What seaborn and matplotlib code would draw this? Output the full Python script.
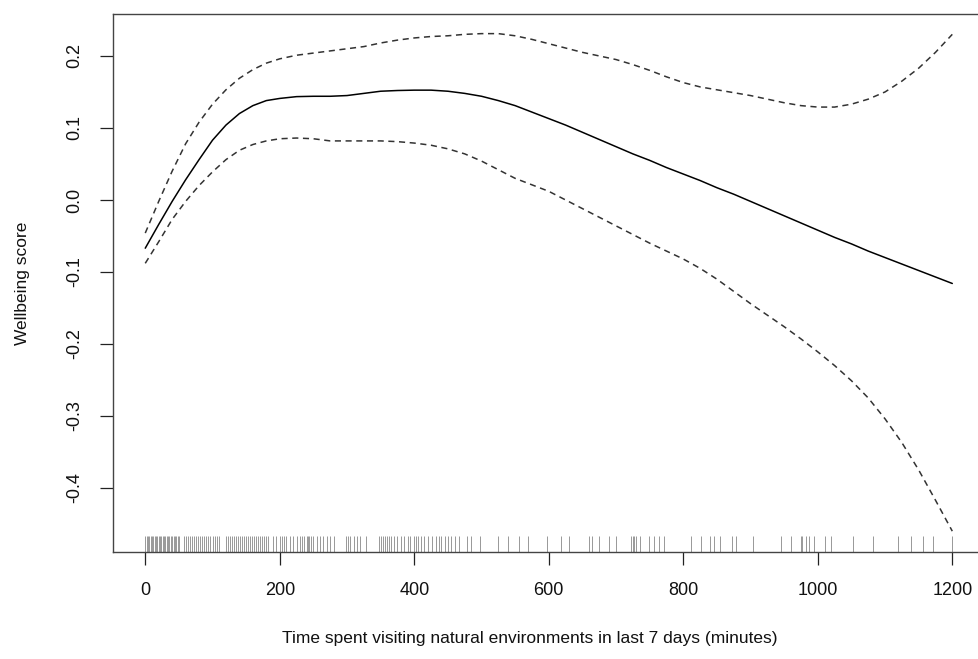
import numpy as np
import pandas as pd
import matplotlib
matplotlib.use('Agg')
import matplotlib.pyplot as plt
import seaborn as sns

# smooth term (GAM style plot): estimate and the two standard-error bands
minutes = [0, 20, 40, 60, 80, 100, 120, 140, 160, 180, 200,
           225, 250, 275, 300, 325, 350, 375, 400, 425, 450, 475, 500,
           525, 550, 575, 600, 625, 650, 675, 700, 725, 750, 775, 800,
           825, 850, 875, 900, 925, 950, 975, 1000, 1025, 1050, 1075, 1100,
           1125, 1150, 1175, 1200]
fit = [-0.067, -0.034, -0.002, 0.028, 0.056, 0.083, 0.104, 0.120, 0.131, 0.138, 0.141,
       0.1435, 0.144, 0.144, 0.145, 0.148, 0.151, 0.152, 0.1525, 0.1525, 0.151, 0.148, 0.144,
       0.138, 0.131, 0.122, 0.113, 0.104, 0.094, 0.084, 0.074, 0.064, 0.055, 0.045, 0.036,
       0.027, 0.017, 0.008, -0.002, -0.012, -0.022, -0.032, -0.042, -0.052, -0.061, -0.071, -0.080,
       -0.089, -0.098, -0.107, -0.116]
upper = [-0.046, -0.002, 0.040, 0.078, 0.108, 0.133, 0.153, 0.169, 0.181, 0.190, 0.196,
         0.201, 0.204, 0.207, 0.210, 0.213, 0.218, 0.222, 0.225, 0.227, 0.228, 0.230, 0.231,
         0.231, 0.228, 0.223, 0.217, 0.211, 0.205, 0.200, 0.195, 0.188, 0.180, 0.171, 0.163,
         0.157, 0.153, 0.149, 0.145, 0.140, 0.135, 0.131, 0.129, 0.129, 0.133, 0.140, 0.150,
         0.165, 0.183, 0.205, 0.230]
lower = [-0.088, -0.058, -0.027, -0.002, 0.020, 0.039, 0.056, 0.069, 0.077, 0.082, 0.085,
         0.086, 0.085, 0.082, 0.082, 0.082, 0.082, 0.081, 0.079, 0.076, 0.071, 0.064, 0.054,
         0.042, 0.030, 0.021, 0.012, 0.000, -0.012, -0.024, -0.036, -0.048, -0.060, -0.071, -0.082,
         -0.095, -0.110, -0.127, -0.144, -0.160, -0.176, -0.193, -0.211, -0.230, -0.251, -0.275, -0.304,
         -0.337, -0.375, -0.417, -0.460]

# observed values shown as a rug along the bottom (dense at low minutes)
rug_minutes = (list(range(0, 52, 2)) + list(range(58, 112, 3)) + list(range(120, 186, 3))
               + [190, 195, 200, 203, 206, 210, 215, 220, 225, 230, 233, 236, 240, 242, 244,
                  246, 250, 255, 260, 265, 270, 275, 280]
               + [298, 302, 305, 310, 315, 320, 328, 348, 351, 354, 357, 360, 363, 366, 370,
                  375, 380, 385, 390, 393]
               + [400, 403, 406, 410, 415, 420, 427, 432, 437, 440, 445, 450, 455, 460, 467,
                  479, 484, 497, 524, 539, 556, 569, 598, 618, 630, 660, 665, 675, 690, 700,
                  722, 725, 727, 730, 735, 749, 757, 764, 772, 811, 826, 839, 846, 854, 873,
                  878, 903, 945, 960, 975, 977, 982, 987, 995, 1010, 1020, 1052, 1082, 1119,
                  1139, 1156, 1171, 1200])

xticks = [0, 200, 400, 600, 800, 1000, 1200]
yticks = [-0.4, -0.3, -0.2, -0.1, 0.0, 0.1, 0.2]
ytick_labels = ['-0.4', '-0.3', '-0.2', '-0.1', '0.0', '0.1', '0.2']

sns.set_style('white')
plt.rcParams['font.family'] = ['Liberation Sans', 'DejaVu Sans']
plt.rcParams['axes.unicode_minus'] = False

df = pd.DataFrame({'minutes': minutes, 'fit': fit, 'upper': upper, 'lower': lower})

fig = plt.figure(figsize=(9.79, 6.59), dpi=100)
ax = fig.add_axes([0.1154, 0.1624, 0.8903, 0.8164])

sns.lineplot(data=df, x='minutes', y='fit', color='black', linewidth=1.1, ax=ax)
sns.lineplot(data=df, x='minutes', y='upper', color='#333333', linewidth=1.1,
             linestyle=(0, (4, 3)), ax=ax)
sns.lineplot(data=df, x='minutes', y='lower', color='#333333', linewidth=1.1,
             linestyle=(0, (4, 3)), ax=ax)
sns.rugplot(x=rug_minutes, height=0.03, color='#555555', linewidth=0.7, alpha=0.6, ax=ax)

ax.set_xlim(-48, 1248)
ax.set_ylim(-0.4889, 0.2583)
ax.set_xticks(xticks)
ax.set_xticklabels([str(t) for t in xticks])
ax.set_yticks(yticks)
ax.set_yticklabels(ytick_labels, rotation=90, va='center')

for s in ax.spines.values():
    s.set_color('#444444')
    s.set_linewidth(1.0)

ax.tick_params(axis='both', which='major', direction='out', length=9.5, width=0.9,
               color='#222222', labelsize=13, labelcolor='#111111',
               left=True, bottom=True)
ax.tick_params(axis='x', pad=12)
ax.tick_params(axis='y', pad=12)

ax.set_xlabel('Time spent visiting natural environments in last 7 days (minutes)',
              fontsize=12.5, color='#111111')
ax.set_ylabel('Wellbeing score', fontsize=12.5, color='#111111')
ax.xaxis.set_label_coords(0.478, -0.147)
ax.yaxis.set_label_coords(-0.095, 0.5)

fig.savefig('out.png', dpi=100, facecolor='white')
